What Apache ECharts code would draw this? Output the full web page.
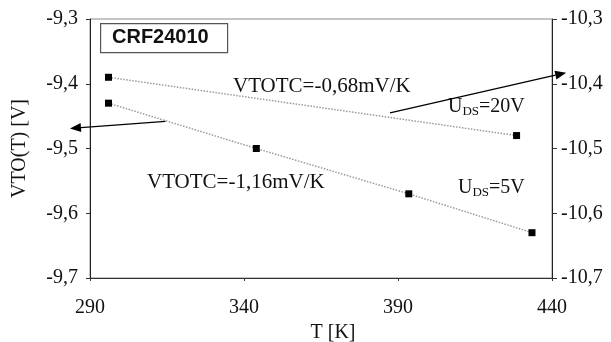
<!DOCTYPE html>
<html>
<head>
<meta charset="utf-8">
<script src="https://cdn.jsdelivr.net/npm/echarts@6/dist/echarts.min.js"></script>
<style>
  html, body { margin: 0; padding: 0; background: #fff; }
  #chart { width: 611px; height: 342px; }
</style>
</head>
<body>
<div id="chart"></div>
<script>
// data
var temps5 = [296, 344, 393.5, 433.5];
var vto5 = [-9.43, -9.50, -9.57, -9.63];
var temps20 = [296, 428.5];
var vto20 = [-10.39, -10.48];

var xTicks = [290, 340, 390, 440];
var leftRange = [-9.7, -9.3];
var rightRange = [-10.7, -10.3];

// arrows pointing at the axis each curve belongs to, in data units (T, left axis)
var arrowLeft = [[314.5, -9.458], [283.5, -9.469]];
var arrowRight = [[387.4, -9.445], [444.6, -9.383]];

var serif = '"Liberation Serif", "DejaVu Serif", serif';

function comma(v) {
    return v.toFixed(1).replace('.', ',');
}
function pairs(xs, ys) {
    return xs.map(function (x, i) { return [x, ys[i]]; });
}

var chart = echarts.init(document.getElementById('chart'));

var option = {
    animation: false,
    grid: {
        left: 90, right: 59, top: 19, bottom: 64,
        outerBoundsMode: 'none', containLabel: false,
        show: true, borderColor: '#8a8a8a', borderWidth: 1
    },
    xAxis: {
        type: 'value',
        min: xTicks[0], max: xTicks[xTicks.length - 1], interval: 50,
        name: 'T [K]', nameLocation: 'middle', nameGap: 39,
        nameTextStyle: { fontFamily: serif, fontSize: 20, color: '#111', padding: [0, 0, 0, 24] },
        axisLine: { lineStyle: { color: '#333' } },
        axisTick: { length: 3, lineStyle: { color: '#333' } },
        axisLabel: { fontFamily: serif, fontSize: 20, color: '#111', margin: 20 },
        splitLine: { show: false }
    },
    yAxis: [
        {
            type: 'value', min: leftRange[0], max: leftRange[1], interval: 0.1,
            name: 'VTO(T) [V]', nameLocation: 'middle', nameGap: 60, nameRotate: 90,
            nameTextStyle: { fontFamily: serif, fontSize: 20, color: '#111' },
            axisLine: { show: true, lineStyle: { color: '#222' } },
            axisTick: { show: true, length: 4, lineStyle: { color: '#333' } },
            axisLabel: { fontFamily: serif, fontSize: 20, color: '#111', margin: 12, formatter: comma },
            splitLine: { show: false }
        },
        {
            type: 'value', min: rightRange[0], max: rightRange[1], interval: 0.1,
            position: 'right',
            axisLine: { show: true, lineStyle: { color: '#222' } },
            axisTick: { show: true, length: 5, lineStyle: { color: '#333' } },
            axisLabel: { fontFamily: serif, fontSize: 20, color: '#111', margin: 9, formatter: comma },
            splitLine: { show: false }
        }
    ],
    series: [
        {
            name: 'UDS=5V',
            type: 'line',
            data: pairs(temps5, vto5),
            symbol: 'rect', symbolSize: 7,
            itemStyle: { color: '#000' },
            lineStyle: { color: '#9a9a9a', width: 1.5, type: 'dotted' }
        },
        {
            name: 'UDS=20V',
            type: 'line',
            yAxisIndex: 1,
            data: pairs(temps20, vto20),
            symbol: 'rect', symbolSize: 7,
            itemStyle: { color: '#000' },
            lineStyle: { color: '#9a9a9a', width: 1.5, type: 'dotted' }
        }
    ],
    graphic: [
        {
            type: 'rect', left: 100, top: 23,
            shape: { width: 127, height: 29 },
            style: { fill: '#fff', stroke: '#555', lineWidth: 1.2 }
        },
        {
            type: 'text', left: 112, top: 27,
            style: { text: 'CRF24010', font: 'bold 20px "Liberation Sans", Arial, sans-serif', fill: '#111' }
        },
        {
            type: 'text', left: 233, top: 76,
            style: { text: 'VTOTC=-0,68mV/K', font: '21px ' + serif, fill: '#111' }
        },
        {
            type: 'text', left: 147, top: 172,
            style: { text: 'VTOTC=-1,16mV/K', font: '21px ' + serif, fill: '#111' }
        },
        {
            type: 'text', left: 448, top: 97,
            style: {
                text: '{a|U}{b|DS}{a|=20V}',
                rich: {
                    a: { fontFamily: serif, fontSize: 20, fill: '#111', color: '#111' },
                    b: { fontFamily: serif, fontSize: 13, fill: '#111', color: '#111', padding: [9, 0, 0, 0] }
                }
            }
        },
        {
            type: 'text', left: 458, top: 178,
            style: {
                text: '{a|U}{b|DS}{a|=5V}',
                rich: {
                    a: { fontFamily: serif, fontSize: 20, fill: '#111', color: '#111' },
                    b: { fontFamily: serif, fontSize: 13, fill: '#111', color: '#111', padding: [9, 0, 0, 0] }
                }
            }
        }
    ]
};

chart.setOption(option);

// arrows: convert the data points to pixels, then draw line + head
function arrow(pts) {
    var a = chart.convertToPixel({ gridIndex: 0 }, pts[0]);
    var b = chart.convertToPixel({ gridIndex: 0 }, pts[1]);
    var ang = Math.atan2(b[1] - a[1], b[0] - a[0]);
    var len = 11, w = 4.5;
    var bx = b[0] - len * Math.cos(ang), by = b[1] - len * Math.sin(ang);
    var nx = -Math.sin(ang) * w, ny = Math.cos(ang) * w;
    return [
        { type: 'line', shape: { x1: a[0], y1: a[1], x2: bx, y2: by },
          style: { stroke: '#000', lineWidth: 1.3 }, z: 100 },
        { type: 'polygon', shape: { points: [[b[0], b[1]], [bx + nx, by + ny], [bx - nx, by - ny]] },
          style: { fill: '#000' }, z: 100 }
    ];
}
chart.setOption({ graphic: option.graphic.concat(arrow(arrowLeft), arrow(arrowRight)) });
</script>
</body>
</html>
